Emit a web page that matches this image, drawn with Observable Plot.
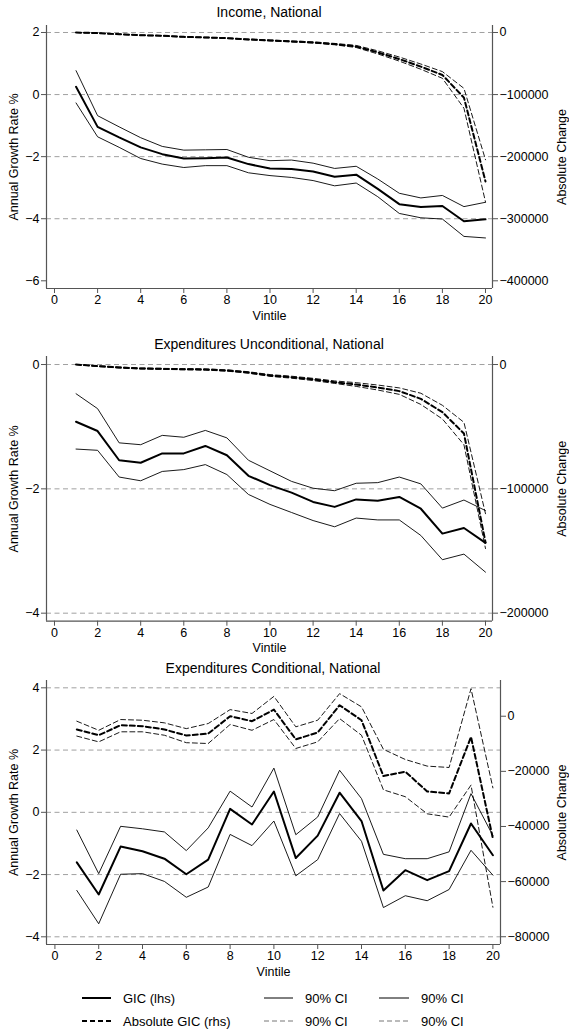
<!DOCTYPE html>
<html><head><meta charset="utf-8">
<script src="https://cdn.jsdelivr.net/npm/d3@7"></script>
<script src="https://cdn.jsdelivr.net/npm/@observablehq/plot@0.6"></script>
<style>
body{margin:0;background:#fff;}
#chart{position:relative;width:569px;height:1031px;font-family:"Liberation Sans",Arial,Helvetica,sans-serif;color:#000;overflow:hidden;}
.title{position:absolute;font-size:14px;transform:translate(-50%,-50%);white-space:nowrap;}
.panel{position:absolute;left:0;}
</style></head><body><div id="chart"></div>
<script>
const vintiles = d3.range(1, 21);
const xTicks = d3.range(0, 21, 2);

// Panel 1: Income, National
const incGic = [0.25,-1.04,-1.38,-1.70,-1.92,-2.06,-2.05,-2.03,-2.24,-2.38,-2.40,-2.48,-2.65,-2.58,-3.04,-3.53,-3.62,-3.59,-4.08,-4.02];
const incHi  = [0.77,-0.68,-1.04,-1.39,-1.67,-1.79,-1.78,-1.77,-2.02,-2.13,-2.11,-2.21,-2.38,-2.31,-2.72,-3.18,-3.33,-3.25,-3.61,-3.47];
const incLo  = [-0.27,-1.36,-1.70,-2.06,-2.24,-2.35,-2.29,-2.29,-2.52,-2.61,-2.67,-2.77,-2.94,-2.85,-3.29,-3.83,-3.97,-4.01,-4.57,-4.62];
const incAbs   = [0,-1000,-2700,-4300,-5300,-7000,-8000,-9100,-11200,-12800,-14400,-16000,-18700,-22500,-32000,-42800,-55000,-68400,-105000,-240000];
const incAbsHi = [0,-700,-2400,-3900,-4900,-6500,-7500,-8600,-10600,-12100,-13600,-15100,-17600,-20800,-29500,-39500,-50800,-63000,-90000,-205000];
const incAbsLo = [0,-1300,-3000,-4700,-5700,-7500,-8500,-9600,-11800,-13500,-15200,-16900,-19800,-24200,-34500,-46100,-59200,-73800,-122000,-273000];
const incLeftTicks = [2,0,-2,-4,-6];
const incGrid = [2,0,-2,-4];
const incRightTicks = [0,-100000,-200000,-300000,-400000];

// Panel 2: Expenditures Unconditional, National
const uncGic = [-0.92,-1.07,-1.54,-1.58,-1.43,-1.43,-1.31,-1.46,-1.79,-1.94,-2.06,-2.21,-2.29,-2.17,-2.19,-2.13,-2.32,-2.72,-2.63,-2.87];
const uncHi  = [-0.47,-0.71,-1.26,-1.29,-1.14,-1.17,-1.06,-1.18,-1.54,-1.71,-1.88,-1.99,-2.03,-1.91,-1.90,-1.81,-1.92,-2.31,-2.18,-2.35];
const uncLo  = [-1.36,-1.38,-1.81,-1.87,-1.72,-1.69,-1.61,-1.77,-2.09,-2.25,-2.38,-2.51,-2.61,-2.47,-2.50,-2.50,-2.75,-3.14,-3.05,-3.34];
const uncAbs   = [0,-1300,-2400,-3200,-3500,-3750,-4000,-4800,-6400,-8800,-10200,-12000,-14200,-16100,-18500,-21400,-27600,-38300,-55500,-143000];
const uncAbsHi = [0,-1000,-2000,-2800,-3100,-3300,-3500,-4300,-5800,-8100,-9400,-11100,-13200,-14600,-16500,-18800,-23100,-32800,-46500,-120000];
const uncAbsLo = [0,-1600,-2800,-3600,-3900,-4200,-4500,-5300,-7000,-9500,-11000,-12900,-15200,-17600,-20500,-24000,-32100,-43800,-64500,-148000];
const uncLeftTicks = [0,-2,-4];
const uncGrid = [0,-2,-4];
const uncRightTicks = [0,-100000,-200000];

// Panel 3: Expenditures Conditional, National
const conGic = [-1.61,-2.64,-1.10,-1.25,-1.49,-1.99,-1.52,0.11,-0.39,0.67,-1.47,-0.75,0.63,-0.28,-2.51,-1.86,-2.18,-1.89,-0.36,-1.38];
const conHi  = [-0.57,-1.97,-0.45,-0.53,-0.63,-1.23,-0.50,0.68,0.17,1.42,-0.72,-0.15,1.35,0.44,-1.35,-1.49,-1.49,-1.27,0.60,-0.75];
const conLo  = [-2.51,-3.58,-1.99,-1.97,-2.22,-2.73,-2.40,-0.71,-1.07,-0.28,-2.04,-1.52,-0.04,-0.93,-3.06,-2.68,-2.84,-2.48,-1.22,-2.02];
const conAbs   = [-4800,-6900,-3250,-3600,-4800,-7000,-6300,0,-1800,2400,-8400,-5900,4000,-1450,-21700,-20100,-27300,-28000,-7500,-44400];
const conAbsHi = [-1800,-5100,-1200,-1450,-2400,-4500,-2650,2400,1000,7200,-3850,-1450,8200,3400,-12000,-15700,-18100,-18600,10000,-26000];
const conAbsLo = [-7200,-9300,-5650,-5650,-6900,-9600,-9900,-3000,-5100,-1200,-11700,-9300,-850,-6900,-26700,-29200,-35400,-36600,-25000,-69300];
const conLeftTicks = [4,2,0,-2,-4];
const conGrid = [4,2,0,-2,-4];
const conRightTicks = [0,-20000,-40000,-60000,-80000];

const titles = ["Income, National", "Expenditures Unconditional, National", "Expenditures Conditional, National"];
const legendLabels = ["GIC (lhs)", "Absolute GIC (rhs)", "90% CI"];

const FONT = '"Liberation Sans",Arial,Helvetica,sans-serif';
const fmt = d3.format("d");
const chart = document.getElementById("chart");

function makePanel(cfg) {
  const {top, height, mt, mb, mr, xDom, yDom, leftTicks, grid, rightTicks, a, b,
         gic, hi, lo, abs, absHi, absLo, rightDx, title, titleY} = cfg;
  const toL = v => a + b * v;
  const fromL = g => (g - a) / b;
  const rows = vintiles.map((v, i) => ({
    v, gic: gic[i], hi: hi[i], lo: lo[i],
    am: toL(abs[i]), ah: toL(absHi[i]), al: toL(absLo[i])
  }));
  const axisColor = "#555";
  const svg = Plot.plot({
    width: 569, height,
    marginLeft: 46, marginRight: mr, marginTop: mt, marginBottom: mb,
    style: {fontFamily: FONT, fontSize: "12.5px", background: "transparent", overflow: "visible", color: "#000"},
    x: {domain: xDom},
    y: {domain: yDom},
    marks: [
      Plot.ruleY(grid, {stroke: "#a0a0a0", strokeWidth: 1, strokeDasharray: "5,3.5"}),
      Plot.ruleX([xDom[0], xDom[1]], {stroke: axisColor, strokeWidth: 1.2}),
      Plot.ruleY([yDom[0]], {stroke: axisColor, strokeWidth: 1.2}),
      Plot.axisX(xTicks, {anchor: "bottom", tickSize: 5, tickPadding: 2, label: null, stroke: axisColor, tickFormat: fmt}),
      Plot.axisY(leftTicks, {anchor: "left", tickSize: 5, tickPadding: 2, label: null, stroke: axisColor, tickFormat: fmt}),
      Plot.axisY(rightTicks.map(toL), {anchor: "right", tickSize: 5, tickPadding: 2, label: null, stroke: axisColor,
        tickFormat: g => fmt((Math.round(fromL(g) / 1000) * 1000) || 0)}),
      Plot.lineY(rows, {x: "v", y: "ah", stroke: "#000", strokeWidth: 0.9, strokeDasharray: "5,3"}),
      Plot.lineY(rows, {x: "v", y: "al", stroke: "#000", strokeWidth: 0.9, strokeDasharray: "5,3"}),
      Plot.lineY(rows, {x: "v", y: "am", stroke: "#000", strokeWidth: 2, strokeDasharray: "5,3"}),
      Plot.lineY(rows, {x: "v", y: "hi", stroke: "#000", strokeWidth: 0.9}),
      Plot.lineY(rows, {x: "v", y: "lo", stroke: "#000", strokeWidth: 0.9}),
      Plot.lineY(rows, {x: "v", y: "gic", stroke: "#000", strokeWidth: 2}),
      Plot.text(["Vintile"], {frameAnchor: "bottom", dy: 27, lineAnchor: "middle", textAnchor: "middle", text: d => d, fontSize: 12.5}),
      Plot.text(["Annual Growth Rate %"], {frameAnchor: "left", dx: -33, rotate: -90, textAnchor: "middle", lineAnchor: "middle", text: d => d, fontSize: 12.5}),
      Plot.text(["Absolute Change"], {frameAnchor: "right", dx: rightDx, rotate: -90, textAnchor: "middle", lineAnchor: "middle", text: d => d, fontSize: 12.5})
    ]
  });
  const wrap = document.createElement("div");
  wrap.className = "panel";
  wrap.style.top = top + "px";
  wrap.appendChild(svg);
  chart.appendChild(wrap);
  const t = document.createElement("div");
  t.className = "title";
  t.textContent = title;
  t.style.left = (46 + (569 - mr)) / 2 + "px";
  t.style.top = titleY + "px";
  chart.appendChild(t);
}

makePanel({top: 0, height: 325, mt: 25, mb: 37, mr: 77,
  xDom: [-0.371, 20.325], yDom: [-6.248, 2.2255],
  leftTicks: incLeftTicks, grid: incGrid, rightTicks: incRightTicks, a: 2, b: 1 / 50000,
  gic: incGic, hi: incHi, lo: incLo, abs: incAbs, absHi: incAbsHi, absLo: incAbsLo,
  rightDx: 69, title: titles[0], titleY: 12});

makePanel({top: 330, height: 325, mt: 26, mb: 34.3, mr: 77,
  xDom: [-0.371, 20.325], yDom: [-4.129, 0.129],
  leftTicks: uncLeftTicks, grid: uncGrid, rightTicks: uncRightTicks, a: 0, b: 1 / 50000,
  gic: uncGic, hi: uncHi, lo: uncLo, abs: uncAbs, absHi: uncAbsHi, absLo: uncAbsLo,
  rightDx: 69, title: titles[1], titleY: 344});

makePanel({top: 655, height: 325, mt: 25, mb: 36, mr: 69,
  xDom: [-0.384, 20.347], yDom: [-4.247, 4.235],
  leftTicks: conLeftTicks, grid: conGrid, rightTicks: conRightTicks, a: 3.087, b: 8.855e-5,
  gic: conGic, hi: conHi, lo: conLo, abs: conAbs, absHi: conAbsHi, absLo: conAbsLo,
  rightDx: 61, title: titles[2], titleY: 668});

// Legend
const NS = "http://www.w3.org/2000/svg";
const lg = document.createElementNS(NS, "svg");
lg.setAttribute("width", 569); lg.setAttribute("height", 51);
lg.style.position = "absolute"; lg.style.left = "0px"; lg.style.top = "980px";
lg.style.fontFamily = FONT; lg.style.fontSize = "13px";
const items = [
  {x1: 82, x2: 111, y: 18, w: 2, dash: null, c: "#000", tx: 123, t: legendLabels[0]},
  {x1: 264, x2: 293, y: 18, w: 1, dash: null, c: "#000", tx: 305, t: legendLabels[2]},
  {x1: 379, x2: 409, y: 18, w: 1, dash: null, c: "#000", tx: 421, t: legendLabels[2]},
  {x1: 82, x2: 111, y: 41, w: 2, dash: "5,3", c: "#000", tx: 123, t: legendLabels[1]},
  {x1: 264, x2: 293, y: 41, w: 1, dash: "5,3", c: "#777", tx: 305, t: legendLabels[2]},
  {x1: 379, x2: 409, y: 41, w: 1, dash: "5,3", c: "#777", tx: 421, t: legendLabels[2]}
];
for (const it of items) {
  const l = document.createElementNS(NS, "line");
  l.setAttribute("x1", it.x1); l.setAttribute("x2", it.x2);
  l.setAttribute("y1", it.y); l.setAttribute("y2", it.y);
  l.setAttribute("stroke", it.c); l.setAttribute("stroke-width", it.w);
  if (it.dash) l.setAttribute("stroke-dasharray", it.dash);
  lg.appendChild(l);
  const tx = document.createElementNS(NS, "text");
  tx.setAttribute("x", it.tx); tx.setAttribute("y", it.y);
  tx.setAttribute("dy", "0.35em");
  tx.textContent = it.t;
  lg.appendChild(tx);
}
chart.appendChild(lg);
</script>
</body></html>
